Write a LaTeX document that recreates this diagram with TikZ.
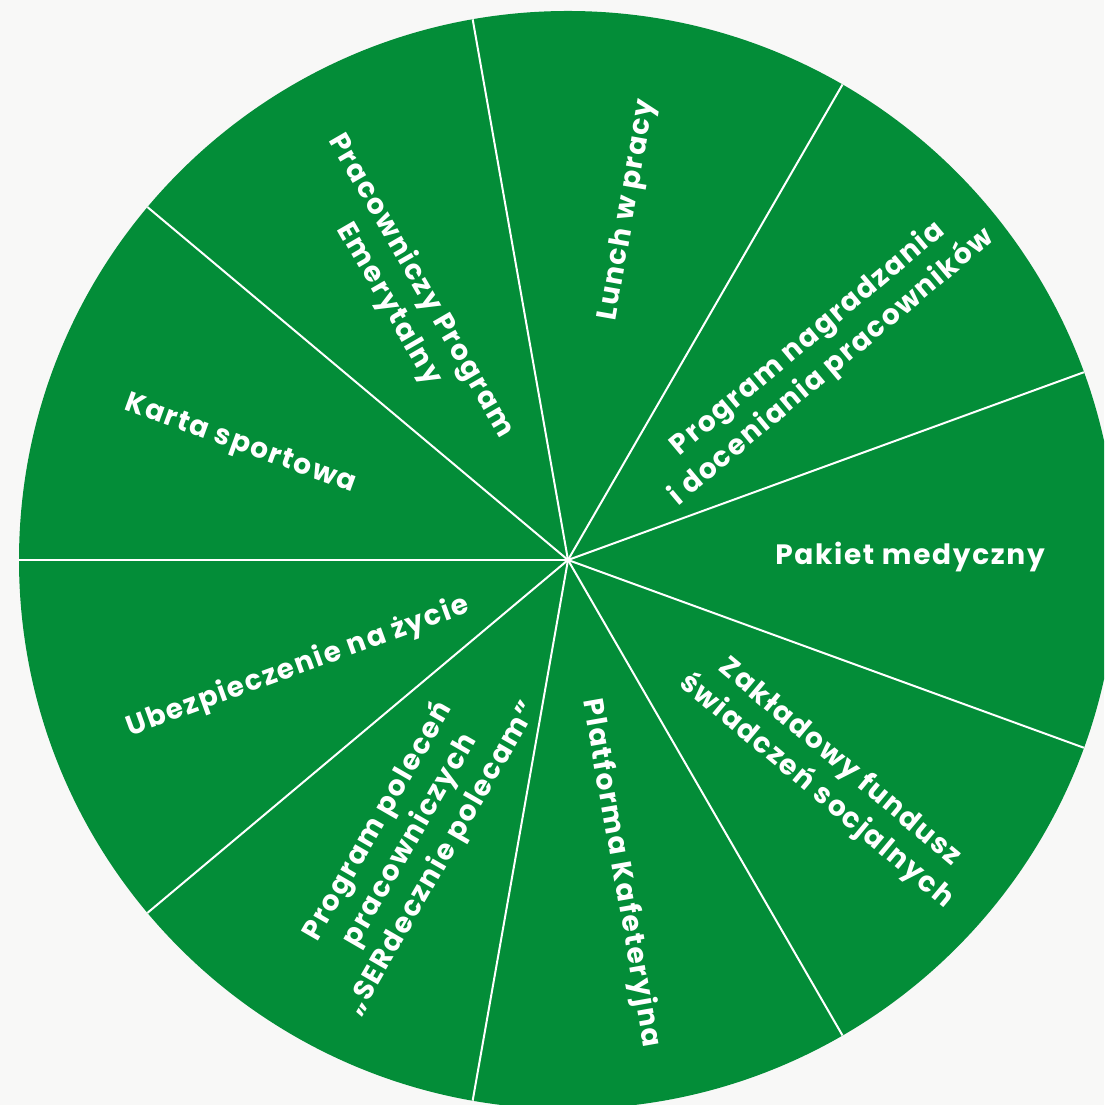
\documentclass[tikz,border=0pt]{standalone}
\usepackage{fontspec}
\setmainfont{Poppins}[LetterSpace=6]
\definecolor{bg}{HTML}{F8F8F7}
\definecolor{wheel}{HTML}{038D38}
\begin{document}
\begin{tikzpicture}[x=1pt,y=1pt,
  lbl/.style={text=white,font=\fontsize{28}{37}\selectfont\bfseries,align=center,inner sep=0pt},
  sep/.style={draw=white,line width=2pt}]
\useasboundingbox (0,0) rectangle (1104,1105);
\clip (0,0) rectangle (1104,1105);
\fill[bg] (0,0) rectangle (1104,1105);
\coordinate (c) at (568,545);
\fill[wheel] (c) circle[radius=549];
\foreach \a in {180,140,100,60,20,-20,-60,-100,-140}{
  \draw[sep] (c) -- ++(\a:549);
}
\node[lbl,rotate=80] (lunch) at (628,895) {Lunch w pracy};
\node[lbl,rotate=40] (nagr) at (820,752) {Program nagradzania\\i doceniania pracowników};
\node[lbl] (pakiet) at (910,548) {Pakiet medyczny};
\node[lbl,rotate=-40] (zfss) at (828,328) {Zakładowy fundusz\\świadczeń socjalnych};
\node[lbl,rotate=-80] (kaf) at (621,232) {Platforma Kafeteryjna};
\node[lbl,rotate=60] (polec) at (410,265) {Program poleceń\\pracowniczych\\„SERdecznie polecam”};
\node[lbl,rotate=20] (ubezp) at (298,438) {Ubezpieczenie na życie};
\node[lbl,rotate=-20] (karta) at (240,660) {Karta sportowa};
\node[lbl,rotate=-60] (ppe) at (405,810) {Pracowniczy Program\\Emerytalny};
\end{tikzpicture}
\end{document}
